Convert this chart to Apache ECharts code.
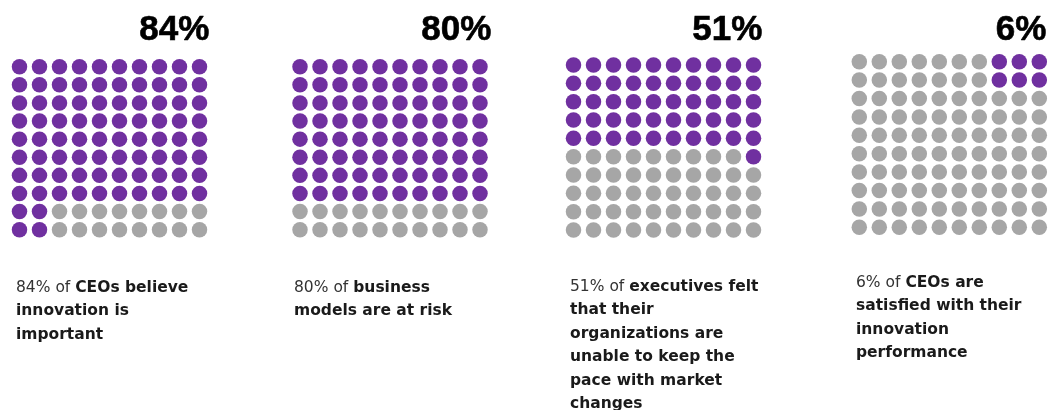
<!DOCTYPE html>
<html>
<head>
<meta charset="utf-8">
<script src="https://cdn.jsdelivr.net/npm/echarts@6/dist/echarts.min.js"></script>
<style>
html,body{margin:0;padding:0;background:#fff;}
#chart{width:1051px;height:410px;}
</style>
</head>
<body>
<div id="chart"></div>
<script>
// ---- data ----
const values = [84, 80, 51, 6];
const valueLabels = ['84%', '80%', '51%', '6%'];
// full purple rows counted from the top, then extra purple cells [row, col]
const fullRows = [8, 8, 5, 0];
const extraCells = [
  [[8, 0], [8, 1], [9, 0], [9, 1]],
  [],
  [[5, 9]],
  [[0, 7], [0, 8], [0, 9], [1, 7], [1, 8], [1, 9]]
];
const captionLead = ['84% of ', '80% of ', '51% of ', '6% of '];
const captionBold = [
  ['CEOs believe', 'innovation is', 'important'],
  ['business', 'models are at risk'],
  ['executives felt', 'that their', 'organizations are', 'unable to keep the', 'pace with market', 'changes'],
  ['CEOs are', 'satisfied with their', 'innovation', 'performance']
];
const gridRows = 10, gridCols = 10;

// ---- layout ----
const PURPLE = '#7030A0', GRAY = '#A6A6A6';
const grids = [
  {left: 19.5, top: 66.7, width: 180, height: 163},
  {left: 300, top: 66.7, width: 180, height: 163},
  {left: 573.5, top: 65, width: 180, height: 165},
  {left: 859.3, top: 61.7, width: 180, height: 165.6}
];
const titleRight = [841, 559, 288, 4];
const captionPos = [[16, 276], [294, 276], [570, 275], [856, 271]];

const option = {
  backgroundColor: '#fff',
  animation: false,
  grid: [], xAxis: [], yAxis: [], series: [], title: []
};

values.forEach(function (v, p) {
  option.grid.push(Object.assign({containLabel: false}, grids[p]));
  option.xAxis.push({type: 'value', gridIndex: p, min: 0, max: gridCols - 1, show: false});
  option.yAxis.push({type: 'value', gridIndex: p, min: 0, max: gridRows - 1, inverse: true, show: false});
  const isPurple = {};
  for (let r = 0; r < fullRows[p]; r++) for (let c = 0; c < gridCols; c++) isPurple[r + '_' + c] = true;
  extraCells[p].forEach(function (rc) { isPurple[rc[0] + '_' + rc[1]] = true; });
  const purple = [], gray = [];
  for (let r = 0; r < gridRows; r++) for (let c = 0; c < gridCols; c++) {
    (isPurple[r + '_' + c] ? purple : gray).push([c, r]);
  }
  [[purple, PURPLE], [gray, GRAY]].forEach(function (d) {
    option.series.push({
      type: 'scatter', xAxisIndex: p, yAxisIndex: p, data: d[0],
      symbol: 'circle', symbolSize: 15.5, silent: true,
      itemStyle: {color: d[1], opacity: 1}
    });
  });
  option.title.push({
    text: valueLabels[p], right: titleRight[p], top: 13, padding: 0,
    textStyle: {fontFamily: '"Liberation Sans", Arial, sans-serif', fontWeight: 'bold', fontSize: 35, color: '#000', lineHeight: 35,
      textBorderColor: '#000', textBorderWidth: 0.6}
  });
  const lines = captionBold[p].map(function (t, i) {
    return (i === 0 ? '{n|' + captionLead[p] + '}' : '') + '{b|' + t + '}';
  });
  option.title.push({
    text: lines.join('\n'), left: captionPos[p][0], top: captionPos[p][1], padding: 0,
    textStyle: {
      rich: {
        n: {fontFamily: 'DejaVu Sans', fontSize: 15.5, fontWeight: 'normal', color: '#333', lineHeight: 23.5},
        b: {fontFamily: 'DejaVu Sans', fontSize: 15.5, fontWeight: 'bold', color: '#1a1a1a', lineHeight: 23.5}
      }
    }
  });
});

const chart = echarts.init(document.getElementById('chart'), null, {renderer: 'canvas'});
chart.setOption(option);
</script>
</body>
</html>
